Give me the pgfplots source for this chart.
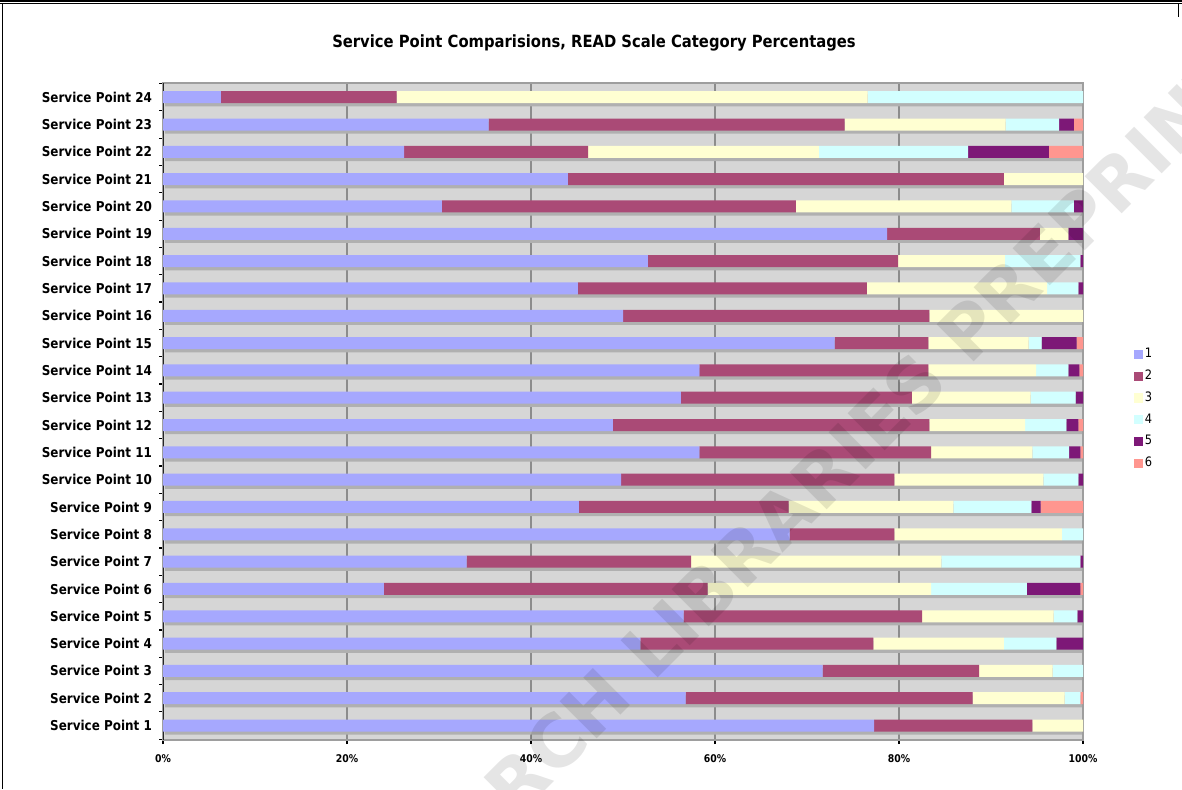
\documentclass[border=0pt]{standalone}
\usepackage{pgfplots}
\pgfplotsset{compat=1.18}
\usepackage{pgfplotstable}
\usepackage{fontspec}
\setmainfont{DejaVu Sans}[FakeStretch=0.88]
\newfontfamily\wmfont{DejaVu Sans}

\definecolor{c1}{RGB}{166,168,254}
\definecolor{c2}{RGB}{170,74,118}
\definecolor{c3}{RGB}{255,255,210}
\definecolor{c4}{RGB}{210,255,255}
\definecolor{c5}{RGB}{125,24,119}
\definecolor{c6}{RGB}{255,150,143}
\definecolor{plotbg}{RGB}{214,214,214}
\definecolor{gridc}{RGB}{140,140,140}
\definecolor{shadowc}{RGB}{176,176,176}

% share of each READ scale category per service point (%)
\pgfplotstableread{
sp  a     b     c     d     e    f
1   77.3  17.2  5.5   0     0    0
2   56.8  31.2  10.0  1.7   0    0.3
3   71.7  17.0  8.0   3.3   0    0
4   51.9  25.3  14.2  5.7   2.9  0
5   56.6  25.9  14.3  2.6   0.6  0
6   24.0  35.2  24.3  10.4  5.8  0.3
7   33.0  24.4  27.2  15.1  0.3  0
8   68.1  11.4  18.2  2.3   0    0
9   45.2  22.8  17.9  8.5   1.0  4.6
10  49.8  29.7  16.2  3.8   0.5  0
11  58.3  25.2  11.0  4.0   1.2  0.3
12  48.9  34.4  10.4  4.5   1.3  0.5
13  56.3  25.1  12.9  4.9   0.8  0
14  58.3  24.9  11.7  3.5   1.2  0.4
15  73.0  10.2  10.9  1.4   3.8  0.7
16  50.0  33.3  16.7  0     0    0
17  45.1  31.4  19.6  3.4   0.5  0
18  52.7  27.2  11.6  8.2   0.3  0
19  78.7  16.6  3.1   0     1.6  0
20  30.3  38.5  23.4  6.8   1.0  0
21  44.0  47.4  8.6   0     0    0
22  26.2  20.0  25.1  16.2  8.8  3.7
23  35.4  38.7  17.5  5.8   1.6  1.0
24  6.3   19.1  51.2  23.4  0    0
}\reads

\pgfplotsset{
  frame/.style={
    at={(81.5pt,24.5pt)}, anchor=south west,
    scale only axis, width=460pt, height=328.5pt,
    xmin=0, xmax=100, ymin=0.47, ymax=24.52,
  },
}

\begin{document}
\begin{tikzpicture}
\fill[white] (0,0) rectangle (591pt,394.5pt);
\useasboundingbox (0,0) rectangle (591pt,394.5pt);

% page frame
\draw[black, line width=1pt] (0,394pt) -- (591pt,394pt);
\draw[black, line width=0.65pt] (0,392.7pt) -- (591pt,392.7pt);
\draw[black, line width=0.65pt] (1.4pt,392.7pt) -- (1.4pt,0);
\draw[black, line width=0.65pt] (589.2pt,392.7pt) -- (589.2pt,386pt);

\node[font=\fontsize{8.4}{9}\selectfont\bfseries] at (297pt,373pt)
  {Service Point Comparisions, READ Scale Category Percentages};

% background, grid and bar shadows
\begin{axis}[frame,
  axis background/.style={fill=plotbg},
  axis line style={draw=none},
  xtick={20,40,60,80}, xticklabels={}, ytick=\empty,
  major tick length=0pt,
  xmajorgrids, grid style={gridc, line width=0.7pt},
  xbar, bar width=6pt,
]
\addplot[fill=shadowc, draw=none, bar shift=-1.6pt, xshift=1pt] coordinates {
  (100,1) (100,2) (100,3) (100,4) (100,5) (100,6) (100,7) (100,8)
  (100,9) (100,10) (100,11) (100,12) (100,13) (100,14) (100,15) (100,16)
  (100,17) (100,18) (100,19) (100,20) (100,21) (100,22) (100,23) (100,24)};
\end{axis}

\begin{axis}[frame,
  xbar stacked, bar width=6pt,
  axis line style={draw=black!38, line width=0.7pt},
  tick align=outside,
  xtick pos=bottom, ytick pos=left,
  xtick={0,20,40,60,80,100},
  xticklabel={\pgfmathprintnumber{\tick}\%},
  /pgf/number format/assume math mode=true,
  major tick length=2pt,
  x tick style={draw=black, line width=0.6pt},
  xticklabel style={font=\fontsize{5.3}{6}\selectfont\bfseries, yshift=-2pt},
  ytick={1,...,24},
  yticklabels={Service Point 1, Service Point 2, Service Point 3, Service Point 4,
    Service Point 5, Service Point 6, Service Point 7, Service Point 8,
    Service Point 9, Service Point 10, Service Point 11, Service Point 12,
    Service Point 13, Service Point 14, Service Point 15, Service Point 16,
    Service Point 17, Service Point 18, Service Point 19, Service Point 20,
    Service Point 21, Service Point 22, Service Point 23, Service Point 24},
  yticklabel style={font=\fontsize{6.8}{7}\selectfont\bfseries},
  major y tick style={draw=none},
  minor ytick={0.5,1.5,...,24.5},
  minor tick length=2pt,
  minor y tick style={draw=black, line width=0.6pt},
  legend style={draw=none, fill=none, at={(1.048,0.504)}, anchor=west,
    font=\fontsize{6.5}{7}\selectfont, row sep=2.6pt,
    nodes={inner sep=1pt}},
  legend image code/.code={\draw[#1,draw=none] (0pt,-2.3pt) rectangle (4.6pt,2.3pt);},
]
\addplot[fill=c1, draw=none] table[x=a, y=sp] {\reads};
\addplot[fill=c2, draw=none] table[x=b, y=sp] {\reads};
\addplot[fill=c3, draw=none] table[x=c, y=sp] {\reads};
\addplot[fill=c4, draw=none] table[x=d, y=sp] {\reads};
\addplot[fill=c5, draw=none] table[x=e, y=sp] {\reads};
\addplot[fill=c6, draw=none] table[x=f, y=sp] {\reads};
\legend{1,2,3,4,5,6}
\draw[black!85, line width=0.7pt] (rel axis cs:0,0) -- (rel axis cs:0,1);
\end{axis}

% preprint watermark
\node[rotate=45, font=\wmfont\fontsize{36}{36}\selectfont\bfseries,
  text=black, opacity=0.1] at (387pt,132pt) {RESEARCH LIBRARIES PREPRINT};
\end{tikzpicture}
\end{document}
